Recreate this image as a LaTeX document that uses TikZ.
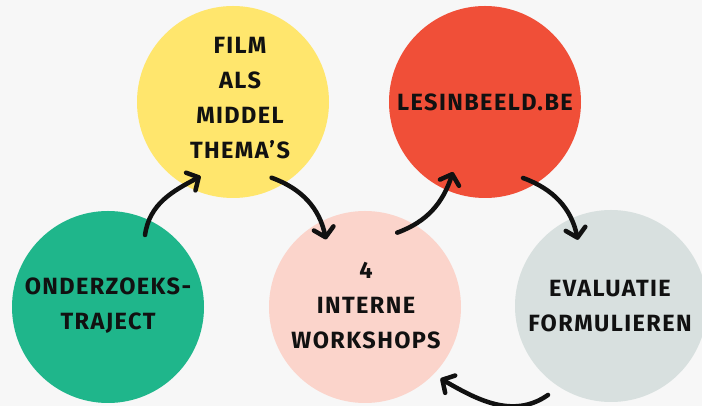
\documentclass[tikz,border=0pt]{standalone}
\usepackage{fontspec}
\setmainfont{Fira Sans}
\usetikzlibrary{arrows.meta,calc}
\definecolor{bgc}{HTML}{F7F7F7}
\definecolor{greenc}{HTML}{1FB68B}
\definecolor{yellowc}{HTML}{FFE66D}
\definecolor{redc}{HTML}{F04F38}
\definecolor{pinkc}{HTML}{FBD4CB}
\definecolor{grayc}{HTML}{D8E0DF}
\definecolor{inkc}{HTML}{111111}
\tikzset{
  circ/.style={circle, minimum size=192pt, inner sep=0pt, draw=none},
  txt/.style={align=center, text=inkc, font=\fontsize{23.5}{35}\selectfont\bfseries\addfontfeatures{LetterSpace=6}},
  flow/.style={draw=inkc, line width=4.5pt, line cap=round, line join=round,
    -{Straight Barb[length=9pt,width=20pt,line cap=round,line join=round]}}
}
\begin{document}
\begin{tikzpicture}[x=1pt,y=1pt]
\useasboundingbox (0,0) rectangle (702,406);
\clip (0,0) rectangle (702,406);
\fill[bgc] (0,0) rectangle (702,406);
\node[circ, fill=greenc] (green) at (108,99) {};
\node[circ, fill=yellowc] (yellow) at (233,304) {};
\node[circ, fill=redc] (red) at (485,304) {};
\node[circ, fill=pinkc] (pink) at (365,99) {};
\node[circ, fill=grayc] (gray) at (611,100) {};
\node[txt] (greent) at (108,100) {ONDERZOEKS-\\TRAJECT};
\node[txt] (yellowt) at (240,308) {FILM\\ALS\\MIDDEL\\THEMA'S};
\node[txt] (redt) at (485,304) {LESINBEELD.BE};
\node[txt] (pinkt) at (366,100) {4\\INTERNE\\WORKSHOPS};
\node[txt] (grayt) at (610,100) {EVALUATIE\\FORMULIEREN};
\draw[flow] ($(green)+(62.8:81)$) to[out=82,in=208] ($(yellow)+(246.5:81)$);
\draw[flow] ($(yellow)+(297:85)$) to[out=-20,in=102] ($(pink)+(120:78)$);
\draw[flow] ($(pink)+(66.6:81)$) to[out=20,in=252] ($(red)+(245.4:77)$);
\draw[flow] ($(red)+(296.6:85)$) to[out=-20,in=102] ($(gray)+(116.6:74)$);
\draw[flow] ($(gray)+(234.7:109)$) to[out=215,in=-30] ($(pink)+(316.5:104)$);
\end{tikzpicture}
\end{document}
